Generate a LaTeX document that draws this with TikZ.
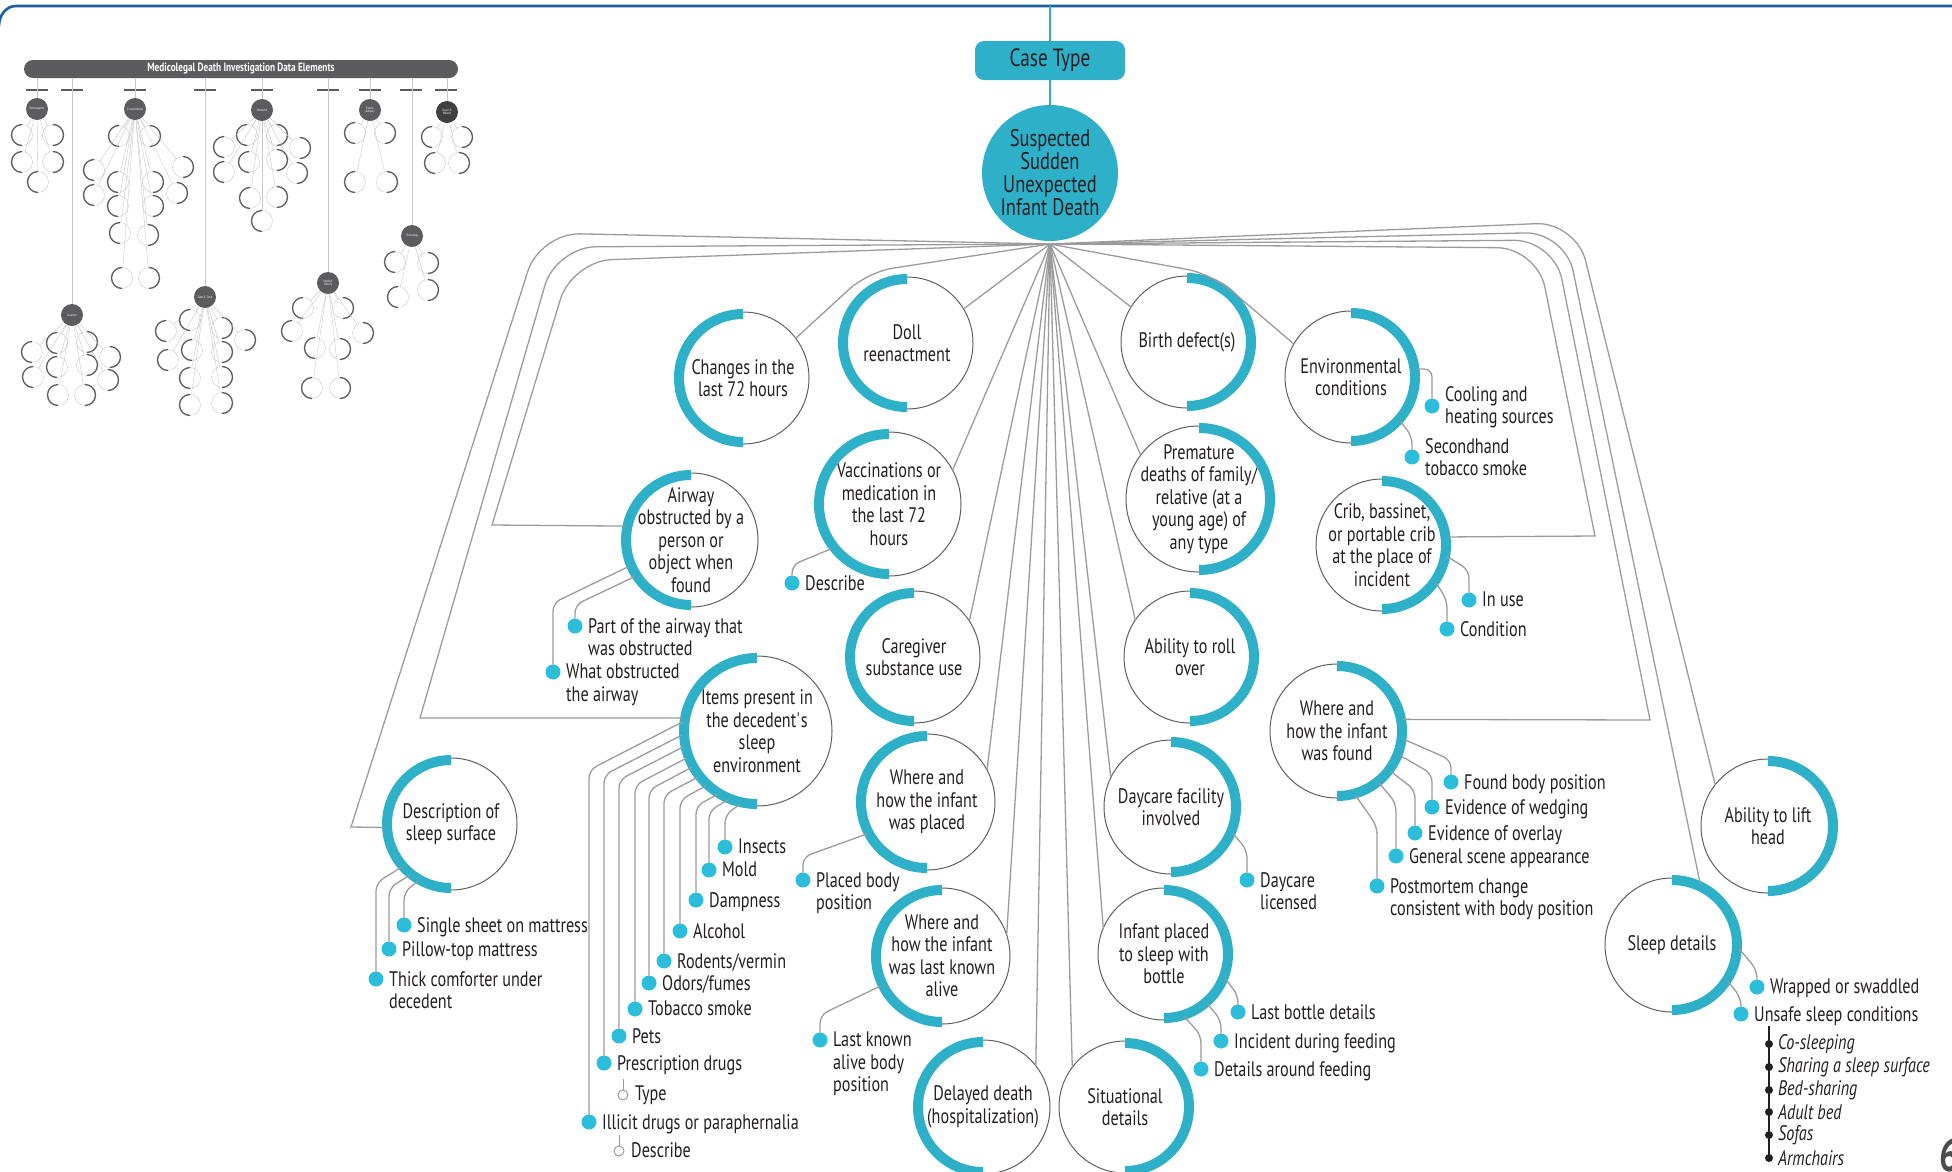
\documentclass[tikz,border=0pt]{standalone}
\usepackage{fontspec}
\setmainfont{PT Sans}[FakeStretch=0.77]
\usetikzlibrary{positioning}

\definecolor{tealc}{RGB}{46,176,200}
\definecolor{dotc}{RGB}{43,189,218}
\definecolor{ringc}{RGB}{95,95,95}
\definecolor{wirec}{RGB}{155,155,155}
\definecolor{inkc}{RGB}{35,31,32}
\definecolor{framec}{RGB}{30,94,162}
\definecolor{insetc}{RGB}{92,92,94}
\definecolor{insetl}{RGB}{200,200,200}

\newcommand{\bubfont}{\fontsize{21}{22.5}\selectfont}
\newcommand{\hubfont}{\fontsize{24}{23}\selectfont}
\newcommand{\minifont}{\fontsize{3.4}{3.6}\selectfont}

% one small ring of the thumbnail chart: parent, x, y, end angle of dark half
\newcommand{\minibub}[4]{%
  \draw[minwire] (#1) -- (#2,#3);
  \filldraw[minic] (#2,#3) circle[radius=10.5];
  \draw[miniarc] (#2,#3) ++(0,10.5) arc[start angle=90, end angle=#4, radius=10.5];}

\tikzset{
  bub/.style={circle, draw=ringc, line width=1pt, minimum size=2*#1, inner sep=-25pt,
    outer sep=0pt, align=center, font=\bubfont, text=inkc},
  tealarc/.style={draw=tealc, line width=10pt},
  wire/.style={draw=wirec, line width=1.3pt},
  leaf/.style={draw=wirec, line width=1.3pt, rounded corners=8pt},
  dot/.style={circle, fill=dotc, minimum size=15pt, inner sep=0pt, outer sep=0pt},
  subdot/.style={circle, draw=wirec, line width=1pt, minimum size=10pt, inner sep=0pt, outer sep=0pt},
  bullet/.style={circle, fill=inkc, minimum size=8pt, inner sep=0pt, outer sep=0pt},
  lbl/.style={anchor=north west, inner sep=0pt, align=left, font=\bubfont, text=inkc},
  ilbl/.style={anchor=west, inner sep=0pt, font=\bubfont\itshape, text=inkc},
  cat/.style={circle, fill=insetc, minimum size=22pt, inner sep=0pt, align=center, text=white, font=\minifont},
  minic/.style={draw=insetl, fill=white, line width=0.4pt},
  miniarc/.style={draw=insetc, line width=1.3pt},
  minwire/.style={draw=insetl, line width=0.4pt},
}

\begin{document}
\begin{tikzpicture}[x=1pt,y=1pt]
\useasboundingbox (0,0) rectangle (1952,-1171);

% page frame
\coordinate (fl) at (-1,-26);
\coordinate (fr) at (1960,-6);
\draw[framec, line width=2.6pt] (fl) to[out=90,in=180] (16,-6) -- (fr);

% thumbnail of the whole data element chart
\node[fill=insetc, rounded corners=9pt, minimum width=434pt, minimum height=18pt, inner sep=0pt,
  text=white, font=\bfseries\fontsize{12}{12}\selectfont] (mdtitle) at (241,-69)
  {Medicolegal Death Investigation Data Elements};
\draw[insetc, line width=2pt] (26,-90) -- (48,-90) (61,-90) -- (83,-90) (124,-90) -- (146,-90)
  (194,-90) -- (216,-90) (251,-90) -- (273,-90) (317,-90) -- (339,-90) (359,-90) -- (381,-90)
  (400,-90) -- (422,-90) (435,-90) -- (457,-90);
\draw[minwire] (37,-78) -- (37,-99) (72,-78) -- (72,-305) (135,-78) -- (135,-99) (205,-78) -- (205,-287)
  (262,-78) -- (262,-100) (328,-78) -- (328,-273) (370,-78) -- (370,-100) (412,-78) -- (412,-226)
  (447,-78) -- (447,-102);
\node[cat] (demog) at (37,-109) {Demographic};
\node[cat] (circum) at (135,-109) {Circumstances};
\node[cat] (narr) at (262,-110) {Narrative};
\node[cat] (exam) at (370,-110) {Exam/\\Autopsy};
\node[cat, fill=insetc!70!black] (cause) at (447,-112) {Cause \&\\Manner};
\node[cat] (toxic) at (412,-236) {Toxicology};
\node[cat] (medhist) at (328,-283) {Medical\\History};
\node[cat] (datetime) at (205,-297) {Date \& Time};
\node[cat] (locat) at (72,-315) {Location};
\minibub{demog}{22}{-135}{270}\minibub{demog}{53}{-135}{-90}\minibub{demog}{22}{-162}{270}
\minibub{demog}{53}{-162}{-90}\minibub{demog}{38}{-182}{270}
\minibub{circum}{119}{-136}{270}\minibub{circum}{150}{-136}{-90}\minibub{circum}{94}{-170}{270}
\minibub{circum}{118}{-182}{270}\minibub{circum}{153}{-182}{-90}\minibub{circum}{183}{-167}{-90}
\minibub{circum}{94}{-195}{270}\minibub{circum}{118}{-206}{270}\minibub{circum}{153}{-206}{-90}
\minibub{circum}{177}{-193}{-90}\minibub{circum}{120}{-233}{270}\minibub{circum}{148}{-235}{-90}
\minibub{circum}{122}{-278}{270}\minibub{circum}{149}{-278}{-90}
\minibub{narr}{247}{-135}{270}\minibub{narr}{277}{-135}{-90}\minibub{narr}{224}{-147}{270}
\minibub{narr}{300}{-148}{-90}\minibub{narr}{224}{-172}{270}\minibub{narr}{249}{-162}{270}
\minibub{narr}{277}{-160}{-90}\minibub{narr}{297}{-173}{-90}\minibub{narr}{250}{-198}{270}
\minibub{narr}{277}{-197}{-90}\minibub{narr}{262}{-221}{270}
\minibub{exam}{355}{-133}{270}\minibub{exam}{385}{-133}{-90}\minibub{exam}{355}{-182}{270}
\minibub{exam}{387}{-182}{-90}
\minibub{cause}{432}{-137}{270}\minibub{cause}{462}{-137}{-90}\minibub{cause}{435}{-163}{270}
\minibub{cause}{459}{-163}{-90}
\minibub{toxic}{395}{-262}{270}\minibub{toxic}{428}{-263}{-90}\minibub{toxic}{398}{-297}{270}
\minibub{toxic}{428}{-290}{-90}
\minibub{medhist}{303}{-308}{270}\minibub{medhist}{343}{-308}{-90}\minibub{medhist}{292}{-331}{270}
\minibub{medhist}{363}{-333}{-90}\minibub{medhist}{315}{-348}{270}\minibub{medhist}{340}{-349}{-90}
\minibub{medhist}{312}{-388}{270}\minibub{medhist}{340}{-388}{-90}
\minibub{datetime}{166}{-331}{270}\minibub{datetime}{190}{-320}{270}\minibub{datetime}{222}{-328}{-90}
\minibub{datetime}{245}{-340}{-90}\minibub{datetime}{168}{-360}{270}\minibub{datetime}{192}{-350}{270}
\minibub{datetime}{222}{-352}{-90}\minibub{datetime}{190}{-378}{270}\minibub{datetime}{222}{-377}{-90}
\minibub{datetime}{190}{-405}{270}\minibub{datetime}{222}{-403}{-90}
\minibub{locat}{32}{-352}{270}\minibub{locat}{57}{-343}{270}\minibub{locat}{87}{-342}{-90}
\minibub{locat}{110}{-357}{-90}\minibub{locat}{33}{-377}{270}\minibub{locat}{57}{-367}{270}
\minibub{locat}{87}{-365}{-90}\minibub{locat}{108}{-380}{-90}\minibub{locat}{58}{-395}{270}
\minibub{locat}{85}{-395}{-90}

% case type and hub
\node[fill=tealc, rounded corners=9pt, minimum width=150pt, minimum height=39pt, inner sep=0pt,
  font=\fontsize{25}{25}\selectfont, text=inkc] (casetype) at (1050,-60.5) {Case Type};
\node[circle, fill=tealc, minimum size=136pt, inner sep=-20pt, outer sep=0pt, align=center,
  font=\hubfont, text=inkc] (sudi) at (1050,-173) {Suspected\\Sudden\\Unexpected\\Infant Death};
\coordinate (ctop) at (1050,-6);
\coordinate (hub) at (1050,-244);
\draw[tealc, line width=2.6pt] (ctop) -- (casetype.north);
\draw[tealc, line width=2.6pt] (casetype.south) -- (sudi.north);

% data elements
\node[bub=66] (changes) at (743,-378) {Changes in the\\last 72 hours};
\node[bub=66] (doll) at (907,-343) {Doll\\reenactment};
\node[bub=66] (birth) at (1187,-342) {Birth defect(s)};
\node[bub=66] (envir) at (1351,-377) {Environmental\\conditions};
\node[bub=72] (vacc) at (889,-504) {Vaccinations or\\medication in\\the last 72\\hours};
\node[bub=73] (premat) at (1199,-499) {Premature\\deaths of family/\\relative (at a\\young age) of\\any type};
\node[bub=67] (airway) at (691,-540) {Airway\\obstructed by a\\person or\\object when\\found};
\node[bub=66] (crib) at (1382,-545) {Crib, bassinet,\\or portable crib\\at the place of\\incident};
\node[bub=66] (caregiver) at (914,-657) {Caregiver\\substance use};
\node[bub=66] (rollover) at (1190,-657) {Ability to roll\\over};
\node[bub=75] (items) at (757,-731) {Items present in\\the decedent\textquotesingle s\\sleep\\environment};
\node[bub=67] (found) at (1337,-731) {Where and\\how the infant\\was found};
\node[bub=68] (placed) at (927,-802) {Where and\\how the infant\\was placed};
\node[bub=67] (daycare) at (1171,-807) {Daycare facility\\involved};
\node[bub=66] (surface) at (451,-824) {Description of\\sleep surface};
\node[bub=67] (lifthead) at (1768,-826) {Ability to lift\\head};
\node[bub=68] (lastalive) at (942,-956) {Where and\\how the infant\\was last known\\alive};
\node[bub=66] (bottle) at (1164,-954) {Infant placed\\to sleep with\\bottle};
\node[bub=67] (sleepdet) at (1672,-945) {Sleep details};
\node[bub=67] (delayed) at (983,-1107) {Delayed death\\(hospitalization)};
\node[bub=66] (situation) at (1125,-1107) {Situational\\details};

% teal half rings
\draw[tealarc] ([yshift=-2pt]changes.north) arc[start angle=90, end angle=270, radius=64];
\draw[tealarc] ([yshift=-2pt]doll.north) arc[start angle=90, end angle=270, radius=64];
\draw[tealarc] ([yshift=-2pt]vacc.north) arc[start angle=90, end angle=270, radius=70];
\draw[tealarc] ([yshift=-2pt]airway.north) arc[start angle=90, end angle=270, radius=65];
\draw[tealarc] ([yshift=-2pt]caregiver.north) arc[start angle=90, end angle=270, radius=64];
\draw[tealarc] ([yshift=-2pt]items.north) arc[start angle=90, end angle=270, radius=73];
\draw[tealarc] ([yshift=-2pt]placed.north) arc[start angle=90, end angle=270, radius=66];
\draw[tealarc] ([yshift=-2pt]surface.north) arc[start angle=90, end angle=270, radius=64];
\draw[tealarc] ([yshift=-2pt]lastalive.north) arc[start angle=90, end angle=270, radius=66];
\draw[tealarc] ([yshift=-2pt]delayed.north) arc[start angle=90, end angle=270, radius=65];
\draw[tealarc] ([yshift=-2pt]birth.north) arc[start angle=90, end angle=-90, radius=64];
\draw[tealarc] ([yshift=-2pt]envir.north) arc[start angle=90, end angle=-90, radius=64];
\draw[tealarc] ([yshift=-2pt]premat.north) arc[start angle=90, end angle=-90, radius=71];
\draw[tealarc] ([yshift=-2pt]crib.north) arc[start angle=90, end angle=-90, radius=64];
\draw[tealarc] ([yshift=-2pt]rollover.north) arc[start angle=90, end angle=-90, radius=64];
\draw[tealarc] ([yshift=-2pt]found.north) arc[start angle=90, end angle=-90, radius=65];
\draw[tealarc] ([yshift=-2pt]daycare.north) arc[start angle=90, end angle=-90, radius=65];
\draw[tealarc] ([yshift=-2pt]lifthead.north) arc[start angle=90, end angle=-90, radius=65];
\draw[tealarc] ([yshift=-2pt]bottle.north) arc[start angle=90, end angle=-90, radius=64];
\draw[tealarc] ([yshift=-2pt]sleepdet.north) arc[start angle=90, end angle=-90, radius=65];
\draw[tealarc] ([yshift=-2pt]situation.north) arc[start angle=90, end angle=-90, radius=64];

% spokes from the case type
\begin{scope}[wire]
  \draw (hub) -- (doll.31);
  \draw (hub) -- (birth.148);
  \draw (hub) -- (vacc.28);
  \draw (hub) -- (premat.143);
  \draw (hub) -- (caregiver.33);
  \draw (hub) -- (rollover.146);
  \draw (hub) -- (placed.28);
  \draw (hub) -- (daycare.154);
  \draw (hub) -- (lastalive.18);
  \draw (hub) -- (bottle.157);
  \draw (hub) -- (delayed.38);
  \draw (hub) -- (situation.143);
  \draw[rounded corners=25pt] (hub) -- (868,-272) -- (changes.37);
  \draw[rounded corners=25pt] (hub) -- (1212,-274) -- (envir.150);
  \draw[rounded corners=40pt] (hub) -- (540,-233) [sharp corners] -- (351,-827) -- (surface.183);
  \draw[rounded corners=40pt] (hub) -- (556,-247) [sharp corners] -- (420,-718) -- (items.170);
  \draw[rounded corners=40pt] (hub) -- (572,-261) [sharp corners] -- (492,-525) -- (airway.168);
  \draw[rounded corners=40pt] (hub) -- (1576,-222) -- (lifthead.142);
  \draw[rounded corners=40pt] (hub) -- (1565,-232) -- (sleepdet.65);
  \draw[rounded corners=40pt] (hub) -- (1554,-240) [sharp corners] -- (1650,-720) -- (found.10);
  \draw[rounded corners=40pt] (hub) -- (1537,-248) [sharp corners] -- (1595,-536) -- (crib.7);
\end{scope}

% environmental conditions
\node[dot] (cool) at (1432,-406) {};
\node[dot] (smoke) at (1412,-457) {};
\draw[leaf] (envir.7) -| (cool);
\draw[leaf] (envir.-42) -- (1412,-436) -- (smoke);
\node[lbl] (cool-t) at ([shift={(13,20)}]cool.center) {Cooling and\\heating sources};
\node[lbl] (smoke-t) at ([shift={(13,19)}]smoke.center) {Secondhand\\tobacco smoke};

% crib
\node[dot] (inuse) at (1469,-600) {};
\node[dot] (cond) at (1447,-629) {};
\draw[leaf] (crib.-10) -- (1469,-570) -- (inuse);
\draw[leaf] (crib.-35) -- (1447,-600) -- (cond);
\node[lbl] (inuse-t) at ([shift={(13,8)}]inuse.center) {In use};
\node[lbl] (cond-t) at ([shift={(13,8)}]cond.center) {Condition};

% airway
\node[dot] (airpart) at (575,-626) {};
\node[dot] (airwhat) at (553,-672) {};
\draw[leaf] (airway.213) -- (575,-605) -- (airpart);
\draw[leaf] (airway.203) -- (553,-603) -- (airwhat);
\node[lbl] (airpart-t) at ([shift={(13,8)}]airpart.center) {Part of the airway that\\was obstructed};
\node[lbl] (airwhat-t) at ([shift={(13,8)}]airwhat.center) {What obstructed\\the airway};

% vaccinations
\node[dot] (vdesc) at (792,-583) {};
\draw[leaf] (vacc.218) -- (792,-565) -- (vdesc);
\node[lbl] (vdesc-t) at ([shift={(13,8)}]vdesc.center) {Describe};

% items in the sleep environment
\node[dot] (ins) at (725,-847) {};
\node[dot] (mold) at (709,-870) {};
\node[dot] (damp) at (696,-900) {};
\node[dot] (alc) at (680,-931) {};
\node[dot] (rod) at (664,-961) {};
\node[dot] (odor) at (649,-983) {};
\node[dot] (tob) at (635,-1009) {};
\node[dot] (pets) at (619,-1036) {};
\node[dot] (rx) at (604,-1063) {};
\node[dot] (illicit) at (589,-1122) {};
\draw[leaf] (items.257) -- (725,-815) -- (ins);
\draw[leaf] (items.247) -- (709,-811) -- (mold);
\draw[leaf] (items.238) -- (696,-806) -- (damp);
\draw[leaf] (items.227) -- (680,-800) -- (alc);
\draw[leaf] (items.218) -- (664,-795) -- (rod);
\draw[leaf] (items.209) -- (649,-790) -- (odor);
\draw[leaf] (items.201) -- (635,-785) -- (tob);
\draw[leaf] (items.192) -- (619,-780) -- (pets);
\draw[leaf] (items.183) -- (604,-775) -- (rx);
\draw[leaf] (items.173) -- (589,-770) -- (illicit);
\node[lbl] (ins-t) at ([shift={(13,8)}]ins.center) {Insects};
\node[lbl] (mold-t) at ([shift={(13,8)}]mold.center) {Mold};
\node[lbl] (damp-t) at ([shift={(13,8)}]damp.center) {Dampness};
\node[lbl] (alc-t) at ([shift={(13,8)}]alc.center) {Alcohol};
\node[lbl] (rod-t) at ([shift={(13,8)}]rod.center) {Rodents/vermin};
\node[lbl] (odor-t) at ([shift={(13,8)}]odor.center) {Odors/fumes};
\node[lbl] (tob-t) at ([shift={(13,8)}]tob.center) {Tobacco smoke};
\node[lbl] (pets-t) at ([shift={(13,8)}]pets.center) {Pets};
\node[lbl] (rx-t) at ([shift={(13,8)}]rx.center) {Prescription drugs};
\node[lbl] (illicit-t) at ([shift={(13,8)}]illicit.center) {Illicit drugs or paraphernalia};
\node[subdot] (rxtype) at (623,-1095) {};
\node[subdot] (illdesc) at (619,-1151) {};
\coordinate (rxtop) at (623,-1079);
\coordinate (illtop) at (619,-1135);
\draw[draw=wirec, line width=1pt] (rxtop) -- (rxtype);
\draw[draw=wirec, line width=1pt] (illtop) -- (illdesc);
\node[lbl] (rxtype-t) at ([shift={(12,9)}]rxtype.center) {Type};
\node[lbl] (illdesc-t) at ([shift={(12,9)}]illdesc.center) {Describe};

% sleep surface
\node[dot] (sheet) at (404,-925) {};
\node[dot] (pillow) at (389,-949) {};
\node[dot] (thick) at (376,-979) {};
\draw[leaf] (surface.240) -- (404,-892) -- (sheet);
\draw[leaf] (surface.231) -- (389,-888) -- (pillow);
\draw[leaf] (surface.221) -- (376,-883) -- (thick);
\node[lbl] (sheet-t) at ([shift={(13,8)}]sheet.center) {Single sheet on mattress};
\node[lbl] (pillow-t) at ([shift={(13,8)}]pillow.center) {Pillow-top mattress};
\node[lbl] (thick-t) at ([shift={(13,8)}]thick.center) {Thick comforter under\\decedent};

% placed and last known alive
\node[dot] (pbody) at (803,-880) {};
\draw[leaf] (placed.208) -- (803,-857) -- (pbody);
\node[lbl] (pbody-t) at ([shift={(13,8)}]pbody.center) {Placed body\\position};
\node[dot] (lkab) at (820,-1040) {};
\draw[leaf] (lastalive.206) -- (820,-1015) -- (lkab);
\node[lbl] (lkab-t) at ([shift={(13,8)}]lkab.center) {Last known\\alive body\\position};

% where found
\node[dot] (fbp) at (1451,-782) {};
\node[dot] (wedge) at (1432,-807) {};
\node[dot] (overlay) at (1415,-833) {};
\node[dot] (scene) at (1396,-856) {};
\node[dot] (pmc) at (1377,-886) {};
\draw[leaf] (found.-7) -- (1451,-760) -- (fbp);
\draw[leaf] (found.-21) -- (1432,-774) -- (wedge);
\draw[leaf] (found.-37) -- (1415,-790) -- (overlay);
\draw[leaf] (found.-51) -- (1396,-803) -- (scene);
\draw[leaf] (found.-74) -- (1377,-826) -- (pmc);
\node[lbl] (fbp-t) at ([shift={(13,8)}]fbp.center) {Found body position};
\node[lbl] (wedge-t) at ([shift={(13,8)}]wedge.center) {Evidence of wedging};
\node[lbl] (overlay-t) at ([shift={(13,8)}]overlay.center) {Evidence of overlay};
\node[lbl] (scene-t) at ([shift={(13,8)}]scene.center) {General scene appearance};
\node[lbl] (pmc-t) at ([shift={(13,8)}]pmc.center) {Postmortem change\\consistent with body position};

% daycare
\node[dot] (lic) at (1247,-880) {};
\draw[leaf] (daycare.-23) -- (1247,-850) -- (lic);
\node[lbl] (lic-t) at ([shift={(13,8)}]lic.center) {Daycare\\licensed};

% bottle
\node[dot] (lastb) at (1238,-1012) {};
\node[dot] (incid) at (1221,-1041) {};
\node[dot] (around) at (1201,-1069) {};
\draw[leaf] (bottle.-22) -- (1238,-995) -- (lastb);
\draw[leaf] (bottle.-49) -- (1221,-1020) -- (incid);
\draw[leaf] (bottle.-72) -- (1201,-1035) -- (around);
\node[lbl] (lastb-t) at ([shift={(13,8)}]lastb.center) {Last bottle details};
\node[lbl] (incid-t) at ([shift={(13,8)}]incid.center) {Incident during feeding};
\node[lbl] (around-t) at ([shift={(13,8)}]around.center) {Details around feeding};

% sleep details
\node[dot] (wrap) at (1757,-987) {};
\node[dot] (unsafe) at (1741,-1014) {};
\draw[leaf] (sleepdet.-3) -- (1757,-970) -- (wrap);
\draw[leaf] (sleepdet.-33) -- (1741,-998) -- (unsafe);
\node[lbl] (wrap-t) at ([shift={(13,8)}]wrap.center) {Wrapped or swaddled};
\node[lbl] (unsafe-t) at ([shift={(13,8)}]unsafe.center) {Unsafe sleep conditions};
\coordinate (ulist) at (1769,-1026);
\node[bullet] (us1) at (1769,-1044) {};
\node[bullet] (us2) at (1769,-1067) {};
\node[bullet] (us3) at (1769,-1090) {};
\node[bullet] (us4) at (1769,-1112) {};
\node[bullet] (us5) at (1769,-1135) {};
\node[bullet] (us6) at (1769,-1158) {};
\draw[inkc, line width=1.4pt] (ulist) -- (us6.center);
\node[ilbl] (us1-t) at ([xshift=9pt]us1.center) {Co-sleeping};
\node[ilbl] (us2-t) at ([xshift=9pt]us2.center) {Sharing a sleep surface};
\node[ilbl] (us3-t) at ([xshift=9pt]us3.center) {Bed-sharing};
\node[ilbl] (us4-t) at ([xshift=9pt]us4.center) {Adult bed};
\node[ilbl] (us5-t) at ([xshift=9pt]us5.center) {Sofas};
\node[ilbl] (us6-t) at ([xshift=9pt]us6.center) {Armchairs};

% page number
\node[anchor=north west, inner sep=0pt, font=\bfseries\fontsize{46}{46}\selectfont, text=ringc!80!black]
  (pagenum) at (1939,-1138) {6};
\end{tikzpicture}
\end{document}
